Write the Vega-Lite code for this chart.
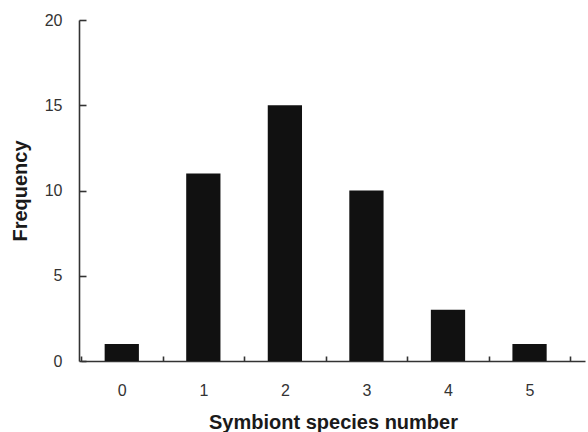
{
  "$schema": "https://vega.github.io/schema/vega-lite/v6.json",
  "autosize": "none",
  "width": 504,
  "height": 341,
  "padding": {"left": 81, "top": 20, "right": 3, "bottom": 71},
  "background": "white",
  "data": {"values": [
    {"species": "0", "frequency": 1},
    {"species": "1", "frequency": 11},
    {"species": "2", "frequency": 15},
    {"species": "3", "frequency": 10},
    {"species": "4", "frequency": 3},
    {"species": "5", "frequency": 1}
  ]},
  "config": {
    "view": {"stroke": null},
    "axis": {
      "labelFont": "Liberation Sans",
      "titleFont": "Liberation Sans",
      "labelColor": "#333",
      "titleColor": "#1a1a1a",
      "domainColor": "#333",
      "tickColor": "#333",
      "domainWidth": 1.6,
      "tickWidth": 1.6,
      "grid": false
    }
  },
  "mark": {"type": "bar", "color": "#111", "width": {"band": 0.42}},
  "encoding": {
    "x": {
      "field": "species", "type": "ordinal", "sort": null,
      "scale": {"paddingInner": 0, "paddingOuter": 0.09, "align": 0},
      "axis": {
        "title": "Symbiont species number",
        "titleFontSize": 20, "titleFontWeight": "bold", "titlePadding": 14,
        "labelAngle": 0, "labelFontSize": 16, "labelPadding": 26,
        "tickBand": "extent", "tickSize": -5
      }
    },
    "y": {
      "field": "frequency", "type": "quantitative",
      "scale": {"domain": [0, 20], "nice": false},
      "axis": {
        "title": "Frequency",
        "titleFontSize": 20, "titleFontWeight": "bold", "titlePadding": 14,
        "values": [0, 5, 10, 15, 20], "labelFontSize": 16, "labelPadding": 24,
        "tickSize": -7, "offset": 2
      }
    }
  }
}
